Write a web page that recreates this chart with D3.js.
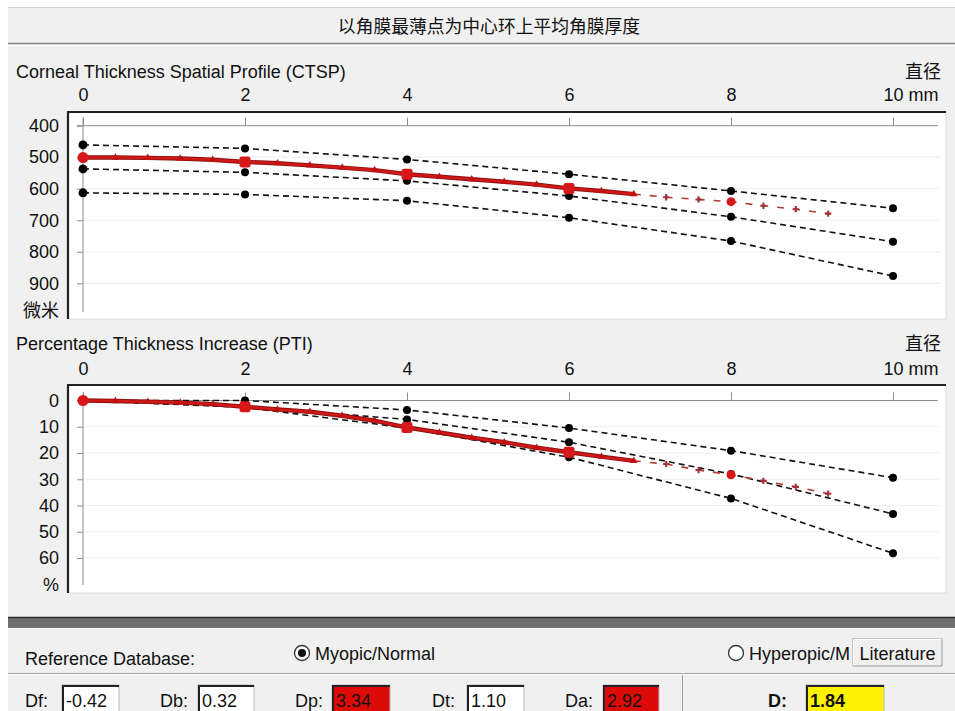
<!DOCTYPE html>
<html>
<head>
<meta charset="utf-8">
<script src="https://cdn.jsdelivr.net/npm/d3@7"></script>
<style>
  html, body { margin: 0; padding: 0; background: #ffffff; }
  svg { display: block; }
  text { font-family: "Liberation Sans", Arial, "Noto Sans CJK SC", sans-serif; fill: #111; }
  .cjk { font-family: "Noto Sans CJK SC", "Liberation Sans", sans-serif; }
</style>
</head>
<body>
<svg id="chart" width="955" height="711"></svg>
<script>
// ---------------- data ----------------
const mmTicks = [0, 2, 4, 6, 8, 10];
const ctspTicks = [400, 500, 600, 700, 800, 900];
const ptiTicks = [0, 10, 20, 30, 40, 50, 60];

// patient samples every 0.4 mm (solid up to 6.8 mm, dashed beyond)
const sampleMm = [0, 0.4, 0.8, 1.2, 1.6, 2.0, 2.4, 2.8, 3.2, 3.6, 4.0, 4.4, 4.8, 5.2, 5.6, 6.0, 6.4, 6.8, 7.2, 7.6, 8.0, 8.4, 8.8, 9.2];
const ctspPatient = [501, 501, 502, 504, 508, 515, 519, 526, 533, 541, 554, 562, 570, 578, 587, 599, 607, 617, 627, 634, 641, 654, 665, 679];
const ptiPatient = [0, 0.2, 0.5, 0.8, 1.4, 2.4, 3.4, 4.3, 5.8, 7.7, 10.3, 12.2, 14.2, 15.9, 18.0, 19.7, 21.4, 23.0, 24.2, 26.5, 28.3, 30.6, 32.9, 35.5];
const solidLastMm = 6.8;

// reference curves (normative bounds)
const refMm = [0, 2, 4, 6, 8, 10];
const ctspUpper = [461, 472, 507, 554, 607, 662];
const ctspMiddle = [537, 548, 575, 623, 689, 768];
const ctspLower = [613, 618, 638, 692, 766, 877];
const ptiUpper = [0, 0, 3.6, 10.5, 19.1, 29.4];
const ptiMiddle = [0, 2.4, 7.2, 15.9, 28.0, 43.2];
const ptiLower = [0, 2.6, 10.5, 21.6, 37.3, 58.2];

// indices
const indexLabels = ["Df:", "Db:", "Dp:", "Dt:", "Da:"];
const indexValues = ["-0.42", "0.32", "3.34", "1.10", "2.92"];
const indexAbnormal = [false, false, true, false, true];
const totalLabel = "D:";
const totalValue = "1.84";

const titleText = "以角膜最薄点为中心环上平均角膜厚度";

// ---------------- drawing ----------------
const svg = d3.select("#chart");
const W = 955, H = 711;
const FS = 18;

// panel background
svg.append("rect").attr("x", 8).attr("y", 7).attr("width", W - 8).attr("height", H - 7).attr("fill", "#f0f0f0");
svg.append("line").attr("x1", 8).attr("x2", W).attr("y1", 7.5).attr("y2", 7.5).attr("stroke", "#d4d4d4");
svg.append("line").attr("x1", 8).attr("x2", W).attr("y1", 43.5).attr("y2", 43.5).attr("stroke", "#8a8a8a").attr("stroke-width", 1.5);
svg.append("line").attr("x1", 8).attr("x2", W).attr("y1", 45.5).attr("y2", 45.5).attr("stroke", "#ffffff");

svg.append("text").attr("class", "cjk").attr("x", 489).attr("y", 33)
  .attr("text-anchor", "middle").attr("font-size", 17.8).text(titleText);

const x = d3.scaleLinear().domain([0, 10]).range([83, 893]);

function panel(cfg) {
  const g = svg.append("g");
  const y = d3.scaleLinear().domain(cfg.yDomain).range(cfg.yRange);
  // plot box
  g.append("rect").attr("x", 68).attr("y", cfg.boxTop).attr("width", 878).attr("height", cfg.boxBottom - cfg.boxTop)
    .attr("fill", "#ffffff").attr("stroke", "#dcdcdc");
  g.append("path").attr("d", `M68,${cfg.boxBottom} V${cfg.boxTop} H946`).attr("fill", "none").attr("stroke", "#222").attr("stroke-width", 2.2);

  // titles
  g.append("text").attr("x", 16).attr("y", cfg.titleY).attr("font-size", FS).text(cfg.title);
  g.append("text").attr("class", "cjk").attr("x", 941).attr("y", cfg.titleY).attr("text-anchor", "end").attr("font-size", FS).text("直径");

  // gridlines
  g.append("g").selectAll("line").data(cfg.yTicks.slice(1)).join("line")
    .attr("x1", 83).attr("x2", 940).attr("y1", d => y(d)).attr("y2", d => y(d))
    .attr("stroke", "#efefef").attr("stroke-width", 1.2);

  // axis lines
  g.append("line").attr("x1", 77).attr("x2", 938).attr("y1", y(cfg.yDomain[0])).attr("y2", y(cfg.yDomain[0])).attr("stroke", "#8c8c8c");
  g.append("line").attr("x1", 83).attr("x2", 83).attr("y1", y(cfg.yDomain[0]) - 8).attr("y2", cfg.axisBottom).attr("stroke", "#8c8c8c");

  // x axis (top)
  const xa = g.append("g").attr("transform", `translate(0,${y(cfg.yDomain[0])})`)
    .call(d3.axisTop(x).tickValues(mmTicks).tickSizeInner(8).tickSizeOuter(0).tickPadding(cfg.xPad).tickFormat(d3.format("d")));
  xa.select(".domain").remove();
  xa.selectAll(".tick line").attr("stroke", "#8c8c8c");
  xa.selectAll(".tick text").attr("font-size", FS).attr("fill", "#111")
    .style("font-family", '"Liberation Sans", Arial, sans-serif');
  xa.selectAll(".tick").filter(d => d === 10).select("text").attr("text-anchor", "start").attr("x", -10).text("10 mm");

  // y axis (left)
  const ya = g.append("g").attr("transform", "translate(83,0)")
    .call(d3.axisLeft(y).tickValues(cfg.yTicks).tickSizeInner(6).tickSizeOuter(0).tickPadding(18).tickFormat(d3.format("d")));
  ya.select(".domain").remove();
  ya.selectAll(".tick line").attr("stroke", "#8c8c8c");
  ya.selectAll(".tick text").attr("font-size", FS).attr("fill", "#111")
    .style("font-family", '"Liberation Sans", Arial, sans-serif');
  g.append("text").attr("class", cfg.unitCjk ? "cjk" : null).attr("x", 59).attr("y", cfg.unitY)
    .attr("text-anchor", "end").attr("dy", "0.32em").attr("font-size", FS).text(cfg.unit);

  // reference curves
  const refLine = d3.line().x(d => x(d[0])).y(d => y(d[1]));
  cfg.refs.forEach(vals => {
    const pts = refMm.map((m, i) => [m, vals[i]]);
    g.append("path").attr("d", refLine(pts)).attr("fill", "none").attr("stroke", "#111")
      .attr("stroke-width", 1.6).attr("stroke-dasharray", "6,4");
    g.append("g").selectAll("circle").data(pts).join("circle")
      .attr("cx", d => x(d[0])).attr("cy", d => y(d[1])).attr("r", d => d[0] === 0 ? 4.5 : 4).attr("fill", "#000");
  });

  // patient curve
  const pts = sampleMm.map((m, i) => [m, cfg.patient[i]]);
  const solid = pts.filter(d => d[0] <= solidLastMm + 1e-9);
  const dashed = pts.filter(d => d[0] >= solidLastMm - 1e-9);
  g.append("path").attr("d", refLine(dashed)).attr("fill", "none").attr("stroke", "#b23b3b")
    .attr("stroke-width", 1.6).attr("stroke-dasharray", "7,9");
  g.append("path").attr("d", refLine(solid)).attr("fill", "none").attr("stroke", "#8e1010").attr("stroke-width", 4.4);
  g.append("path").attr("d", refLine(solid)).attr("fill", "none").attr("stroke", "#d01818").attr("stroke-width", 2.6);

  const major = d => Math.abs(d[0] - Math.round(d[0] / 2) * 2) < 1e-6;
  g.append("g").selectAll("path").data(solid.filter(d => !major(d))).join("path")
    .attr("transform", d => `translate(${x(d[0])},${y(d[1])})`)
    .attr("d", d3.symbol(d3.symbolTriangle, 24)).attr("fill", "#c01010");
  g.append("g").selectAll("path").data(dashed.filter(d => !major(d) && d[0] > solidLastMm)).join("path")
    .attr("transform", d => `translate(${x(d[0])},${y(d[1])})`)
    .attr("d", d3.symbol(d3.symbolCross, 22)).attr("fill", "#a03434");
  const majors = pts.filter(major);
  // circle at the origin and on the dashed part, rounded squares elsewhere
  g.append("g").selectAll("circle").data(majors.filter(d => d[0] === 0 || d[0] > solidLastMm)).join("circle")
    .attr("cx", d => x(d[0])).attr("cy", d => y(d[1]))
    .attr("r", d => d[0] > solidLastMm ? 4.5 : 5.5).attr("fill", "#d81818");
  g.append("g").selectAll("rect").data(majors.filter(d => d[0] > 0 && d[0] <= solidLastMm)).join("rect")
    .attr("x", d => x(d[0]) - 5.5).attr("y", d => y(d[1]) - 5.5).attr("width", 11).attr("height", 11)
    .attr("rx", 2.5).attr("fill", "#d81818");
}

panel({
  title: "Corneal Thickness Spatial Profile (CTSP)", titleY: 78, xPad: 17,
  boxTop: 112, boxBottom: 319, axisBottom: 312,
  yDomain: [400, 900], yRange: [125.7, 283.3], yTicks: ctspTicks,
  unit: "微米", unitY: 311, unitCjk: true,
  refs: [ctspUpper, ctspMiddle, ctspLower], patient: ctspPatient
});

panel({
  title: "Percentage Thickness Increase (PTI)", titleY: 350, xPad: 18,
  boxTop: 385, boxBottom: 593, axisBottom: 585,
  yDomain: [0, 60], yRange: [400.5, 558], yTicks: ptiTicks,
  unit: "%", unitY: 585, unitCjk: false,
  refs: [ptiUpper, ptiMiddle, ptiLower], patient: ptiPatient
});

// ---------------- bottom control panel ----------------
svg.append("rect").attr("x", 8).attr("y", 617).attr("width", W - 8).attr("height", 11).attr("fill", "#707070");
svg.append("line").attr("x1", 8).attr("x2", W).attr("y1", 617.5).attr("y2", 617.5).attr("stroke", "#2a2a2a").attr("stroke-width", 1.5);
svg.append("line").attr("x1", 8).attr("x2", W).attr("y1", 628.5).attr("y2", 628.5).attr("stroke", "#ffffff");

svg.append("text").attr("x", 25).attr("y", 665).attr("font-size", FS).text("Reference Database:");

function radio(cx, cy, on, label) {
  svg.append("circle").attr("cx", cx).attr("cy", cy).attr("r", 7.5).attr("fill", "#fff").attr("stroke", "#333").attr("stroke-width", 1.3);
  if (on) svg.append("circle").attr("cx", cx).attr("cy", cy).attr("r", 4).attr("fill", "#111");
  svg.append("text").attr("x", cx + 13).attr("y", cy + 6.5).attr("font-size", FS).text(label);
}
radio(302, 653, true, "Myopic/Normal");
radio(736, 653, false, "Hyperopic/M");

svg.append("rect").attr("x", 853).attr("y", 639).attr("width", 89).attr("height", 27).attr("fill", "#f0f0f0").attr("stroke", "#9a9a9a");
svg.append("path").attr("d", "M853.5,665.5 V639.5 H941.5").attr("fill", "none").attr("stroke", "#ffffff");
svg.append("text").attr("x", 897.5).attr("y", 659.5).attr("text-anchor", "middle").attr("font-size", FS).text("Literature");

svg.append("line").attr("x1", 8).attr("x2", W).attr("y1", 673.5).attr("y2", 673.5).attr("stroke", "#a0a0a0");
svg.append("line").attr("x1", 8).attr("x2", W).attr("y1", 674.5).attr("y2", 674.5).attr("stroke", "#ffffff");
svg.append("line").attr("x1", 682.5).attr("x2", 682.5).attr("y1", 675).attr("y2", H).attr("stroke", "#a0a0a0");

const labelX = [25, 160, 295, 432, 565];
const boxX = [62, 198, 332, 467, 603];
const boxW = [57, 56, 58, 57, 56];
function valueBox(lx, bx, bw, label, value, fill, textFill, bold) {
  svg.append("text").attr("x", lx).attr("y", 707).attr("font-size", FS).attr("font-weight", bold ? "bold" : null).text(label);
  svg.append("rect").attr("x", bx).attr("y", 685).attr("width", bw).attr("height", 30).attr("fill", fill).attr("stroke", "#b8b8b8");
  svg.append("path").attr("d", `M${bx + 1},${H} V${686} H${bx + bw}`).attr("fill", "none").attr("stroke", "#222").attr("stroke-width", 2);
  svg.append("text").attr("x", bx + 4).attr("y", 707).attr("font-size", FS).attr("fill", textFill)
    .attr("font-weight", bold ? "bold" : null).text(value);
}
indexLabels.forEach((lab, i) => {
  valueBox(labelX[i], boxX[i], boxW[i], lab, indexValues[i],
    indexAbnormal[i] ? "#dd0a0a" : "#ffffff", indexAbnormal[i] ? "#ffffff" : "#111", false);
});
valueBox(768, 806, 78, totalLabel, totalValue, "#fff200", "#111", true);
</script>
</body>
</html>
